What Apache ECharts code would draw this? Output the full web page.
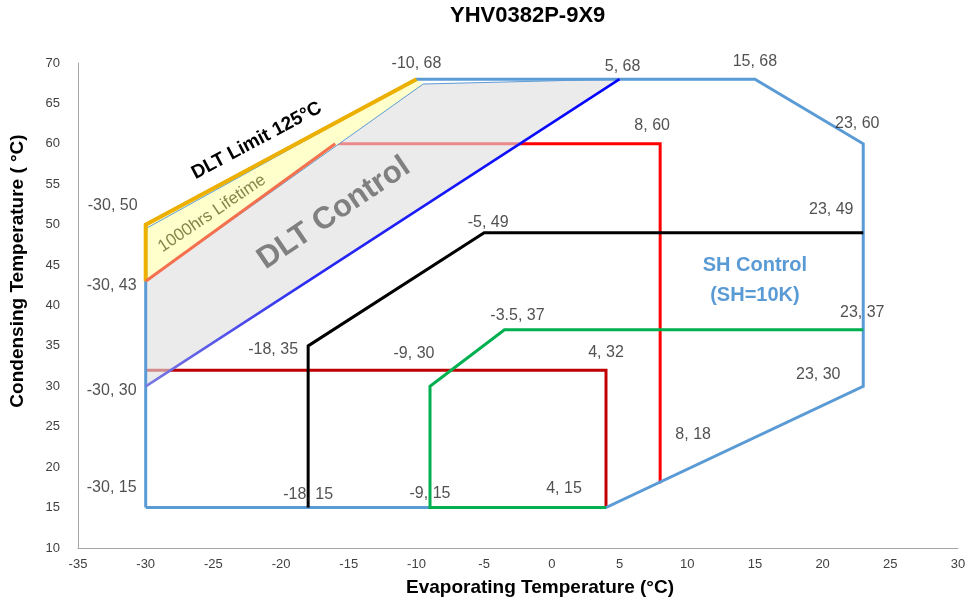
<!DOCTYPE html>
<html>
<head>
<meta charset="utf-8">
<script src="https://cdn.jsdelivr.net/npm/echarts@6/dist/echarts.min.js"></script>
<style>html,body{margin:0;padding:0;background:#fff}#c{width:971px;height:601px}</style>
</head>
<body>
<div id="c"></div>
<script>
// ---- axis ranges ----
const xMin = -35, xMax = 30, xStep = 5;
const yMin = 10, yMax = 70, yStep = 5;

// ---- shapes (evaporating °C, condensing °C) ----
const envelope = [[-30,15],[-30,50],[-10,68],[15,68],[23,60],[23,30],[4,15],[-30,15]];
const dltLimit = [[-30,43],[-30,50],[-10,68]];
const lifetimeEdge = [[-30,43],[-16,60]];
const red60 = [[-16,60],[8,60],[8,18]];
const red32 = [[-30,32],[4,32],[4,15]];
const black49 = [[-18,15],[-18,35],[-5,49],[23,49]];
const green37 = [[4,15],[-9,15],[-9,30],[-3.5,37],[23,37]];
const dltBlue = [[-30,30],[5,68]];
const grayArea = [[-30,30],[-30,43],[-9.5,67.4],[5,68]];
const yellowArea = [[-30,43],[-30,50],[-10,68],[-9.5,67.4]];
const yellowEdge = [[-30,49.5],[-10,68]];
const grayEdge = [[-30,43],[-9.5,67.4],[5,68]];

// ---- labelled points ----
const labelPoints = [[-10,68],[5,68],[15,68],[8,60],[23,60],[23,49],[-5,49],[23,37],[-3.5,37],
  [-18,35],[-9,30],[4,32],[23,30],[8,18],[-30,50],[-30,43],[-30,30],[-30,15],[-18,15],[-9,15],[4,15]];

// ---- annotation texts ----
const annoTexts = ['DLT Limit 125°C','1000hrs Lifetime','DLT Control','SH Control\n(SH=10K)'];
const annoAnchors = [[-21.8,60.4],[-25.1,51.4],[-16.1,51.4],[15.0,43.1]];

// ---- style (not data) ----
const labelOffsets = [[0,-16],[3,-13],[0,-18],[-8,-18],[-6,-20],[-32,-23],[4,-10],[-1,-17],[13,-14],
  [-35,4],[-16,-33],[0,-18],[-45,-12],[33,-49],[-33,-19],[-34,4],[-34,4],[-34,-20],[0,-13],[0,-14],[-42,-19]];
const annoStyles = [
  {font:'bold 19px "Liberation Sans", Arial, sans-serif', fill:'#000', rot:28},
  {font:'17px "Liberation Sans", Arial, sans-serif', fill:'#86864A', rot:34},
  {font:'bold 31px "Liberation Sans", Arial, sans-serif', fill:'#808080', rot:34},
  {font:'bold 20px "Liberation Sans", Arial, sans-serif', fill:'#5B9BD5', rot:0, lh:30}
];

function polySeries(pts, color, opacity, z){
  return {
    type:'custom', z:z, silent:true, data: pts,
    renderItem:function(params, api){
      if(params.dataIndex !== 0) return {type:'group', children:[]};
      return {type:'polygon', shape:{points: pts.map(p=>api.coord(p))},
        style:{fill:color, opacity:opacity}};
    }
  };
}
function lineSeries(pts, color, width, z){
  return {type:'line', z:z, data:pts, showSymbol:false, symbol:'none', silent:true,
    lineStyle:{color:color, width:width, cap:'butt', join:'miter'}};
}

const chart = echarts.init(document.getElementById('c'), null, {renderer:'canvas'});
const option = {
  animation:false,
  backgroundColor:'#fff',
  grid:{left:78, right:13, top:63, bottom:53},
  xAxis:{type:'value', min:xMin, max:xMax, interval:xStep,
    axisLine:{show:true, onZero:false, lineStyle:{color:'#A6A6A6', width:1}},
    axisTick:{show:false}, splitLine:{show:false},
    axisLabel:{color:'#404040', fontSize:13, margin:10, fontFamily:'"Liberation Sans Narrow","Liberation Sans",Arial,sans-serif'}},
  yAxis:{type:'value', min:yMin, max:yMax, interval:yStep,
    axisLine:{show:true, onZero:false, lineStyle:{color:'#A6A6A6', width:1}},
    axisTick:{show:false}, splitLine:{show:false},
    axisLabel:{color:'#404040', fontSize:13, margin:18, fontFamily:'"Liberation Sans",Arial,sans-serif'}},
  graphic:[
    {type:'text', left:450, top:5, style:{text:'YHV0382P-9X9', font:'bold 22px "Liberation Sans", Arial, sans-serif', fill:'#000'}},
    {type:'text', x:540, y:588, style:{text:'Evaporating Temperature (°C)', font:'bold 19px "Liberation Sans", Arial, sans-serif', fill:'#000', align:'center', verticalAlign:'middle'}},
    {type:'text', x:18, y:271, rotation:Math.PI/2, style:{text:'Condensing Temperature ( °C)', font:'bold 19px "Liberation Sans", Arial, sans-serif', fill:'#000', align:'center', verticalAlign:'middle'}}
  ],
  series:[
    lineSeries(red60, '#FF0000', 3, 1),
    lineSeries(red32, '#C00000', 3, 1),
    polySeries(grayArea, '#E0DEE0', 0.62, 2),
    polySeries(yellowArea, '#FFFFCC', 1, 2),
    lineSeries(envelope, '#5B9BD5', 3, 3),
    lineSeries(yellowEdge, '#5B9BD5', 1, 3),
    lineSeries(grayEdge, '#5B9BD5', 1, 3),
    lineSeries(dltLimit, '#EDB000', 4, 4),
    lineSeries(lifetimeEdge, '#F4704E', 3, 4),
    {type:'line', z:4, data:dltBlue, showSymbol:false, symbol:'none', silent:true,
      lineStyle:{width:2.5, color:new echarts.graphic.LinearGradient(0,0,1,0,[
        {offset:0,color:'#7B7BE0'},{offset:0.35,color:'#2A2AF2'},{offset:1,color:'#0000FF'}])}},
    lineSeries(black49, '#000000', 3, 4),
    lineSeries(green37, '#00B050', 3, 4),
    {type:'scatter', z:6, symbolSize:0, silent:true,
      data: labelPoints.map((p,i)=>({value:p, label:{offset:labelOffsets[i]}})),
      label:{show:true, position:'inside', color:'#262626', fontSize:16,
        fontFamily:'"Liberation Sans",Arial,sans-serif',
        formatter:(p)=>p.value[0]+', '+p.value[1]}},
    {type:'custom', z:7, silent:true, data: annoAnchors,
      renderItem:function(params, api){
        const i = params.dataIndex, s = annoStyles[i];
        const c = api.coord(annoAnchors[i]);
        return {type:'text', x:c[0], y:c[1], rotation:s.rot*Math.PI/180,
          style:{text:annoTexts[i], font:s.font, fill:s.fill, align:'center', verticalAlign:'middle', lineHeight:s.lh||undefined}};
      }}
  ]
};
chart.setOption(option);
</script>
</body>
</html>
